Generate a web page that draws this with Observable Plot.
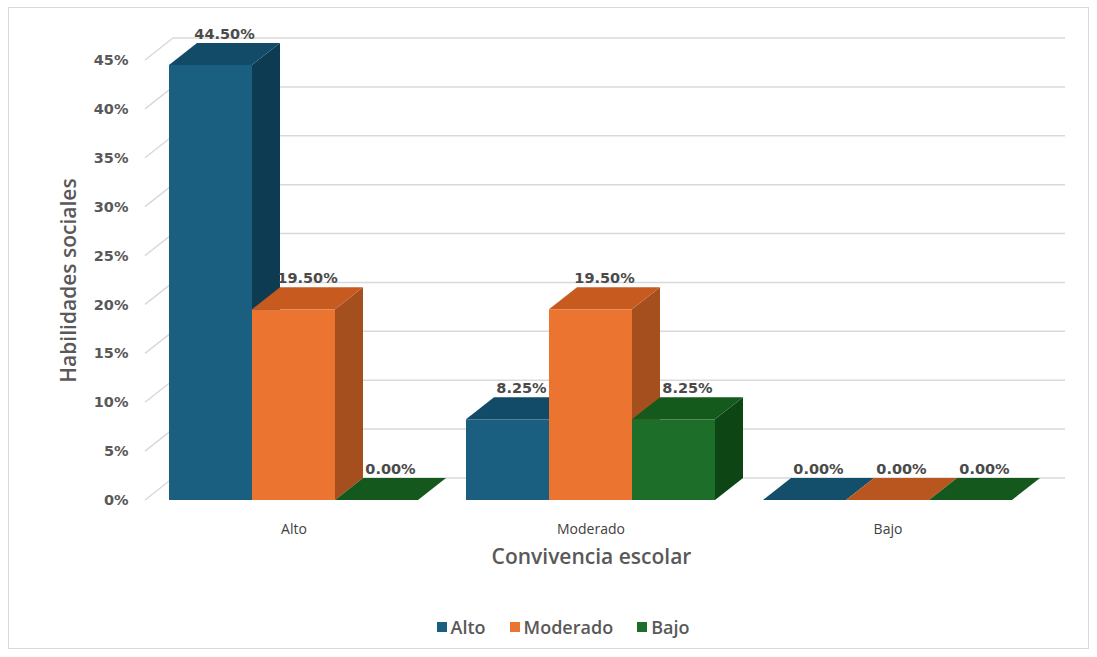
<!DOCTYPE html>
<html>
<head>
<meta charset="utf-8">
<script src="https://cdn.jsdelivr.net/npm/d3@7"></script>
<script src="https://cdn.jsdelivr.net/npm/@observablehq/plot@0.6"></script>
<style>
  html, body { margin: 0; padding: 0; background: #ffffff; }
  #wrap { position: relative; width: 1097px; height: 657px; overflow: hidden; font-family: "Open Sans", sans-serif; }
  #frame { position: absolute; left: 8px; top: 7px; width: 1081px; height: 642px; border: 1px solid #d9d9d9; box-sizing: border-box; }
  #chart { position: absolute; left: 0; top: 0; }
  #legend { position: absolute; left: 0; top: 615px; width: 1126px; display: flex; justify-content: center; gap: 24px;
            font-size: 18px; font-weight: 600; color: #595959; font-family: "Open Sans", sans-serif; }
  #legend span.item { display: inline-flex; align-items: center; }
  #legend span.sw { display: inline-block; width: 10px; height: 10px; margin-right: 4px; }
</style>
</head>
<body>
<div id="wrap">
  <div id="frame"></div>
  <div id="chart"></div>
  <div id="legend"></div>
</div>
<script>
// ---- data ----
const categories = ["Alto", "Moderado", "Bajo"];          // Convivencia escolar
const seriesNames = ["Alto", "Moderado", "Bajo"];         // Habilidades sociales
const valuesAlto = [0.445, 0.0825, 0];
const valuesModerado = [0.195, 0.195, 0];
const valuesBajo = [0, 0.0825, 0];
const yTicks = [0, 0.05, 0.10, 0.15, 0.20, 0.25, 0.30, 0.35, 0.40, 0.45];

// ---- styles ----
const frontColors = {Alto: "#1a5f80", Moderado: "#ec7431", Bajo: "#1c6e28"};
const topColors   = {Alto: "#124b67", Moderado: "#c75b1f", Bajo: "#155a1d"};
const flatColors  = {Alto: "#134e6a", Moderado: "#b9561f", Bajo: "#15581d"};
const sideColors  = {Alto: "#0d3b51", Moderado: "#a54f1e", Bajo: "#0e4515"};
const DX = 28, DY = -22;   // 3D depth offset (pixels)

const seriesValues = [valuesAlto, valuesModerado, valuesBajo];
const data = [];
categories.forEach((cat, ci) => {
  seriesNames.forEach((s, si) => {
    data.push({cat, series: s, value: seriesValues[si][ci]});
  });
});

const fmtPct = v => (v * 100).toFixed(2) + "%";

function walls(index, scales, values, dimensions) {
  const g = d3.create("svg:g");
  const xl = dimensions.marginLeft;
  const xr = dimensions.width - dimensions.marginRight;
  for (const t of yTicks) {
    const y = scales.y(t);
    // left wall diagonal
    g.append("line").attr("x1", xl).attr("y1", y).attr("x2", xl + DX).attr("y2", y + DY)
      .attr("stroke", "#d9d9d9").attr("stroke-width", 1.5);
    // back wall gridline
    g.append("line").attr("x1", xl + DX).attr("y1", y + DY).attr("x2", xr + DX).attr("y2", y + DY)
      .attr("stroke", "#d9d9d9").attr("stroke-width", 1.5);
  }
  return g.node();
}

function bars3d(index, scales) {
  const g = d3.create("svg:g");
  const bw = scales.x.bandwidth() / seriesNames.length;
  const y0 = scales.y(0);
  for (const d of data) {
    const j = seriesNames.indexOf(d.series);
    const x0 = scales.x(d.cat) + j * bw;
    const x1 = x0 + bw;
    const yv = scales.y(d.value);
    if (d.value > 0) {
      g.append("rect").attr("x", x0).attr("y", yv).attr("width", bw).attr("height", y0 - yv)
        .attr("fill", frontColors[d.series]);
      g.append("polygon")
        .attr("points", [[x1, yv], [x1 + DX, yv + DY], [x1 + DX, y0 + DY], [x1, y0]].map(p => p.join(",")).join(" "))
        .attr("fill", sideColors[d.series]);
    }
    g.append("polygon")
      .attr("points", [[x0, yv], [x0 + DX, yv + DY], [x1 + DX, yv + DY], [x1, yv]].map(p => p.join(",")).join(" "))
      .attr("fill", d.value > 0 ? topColors[d.series] : flatColors[d.series]);
  }
  for (const d of data) {
    const j = seriesNames.indexOf(d.series);
    const x0 = scales.x(d.cat) + j * bw;
    const yv = scales.y(d.value);
    g.append("text")
      .attr("x", x0 + bw / 2 + DX / 2)
      .attr("y", yv + DY - 4)
      .attr("text-anchor", "middle")
      .attr("font-family", "'DejaVu Sans', sans-serif")
      .attr("font-size", 14.5)
      .attr("font-weight", 700)
      .attr("fill", "#4a4a4a")
      .text(fmtPct(d.value));
  }
  return g.node();
}

const chart = Plot.plot({
  width: 1097,
  height: 600,
  marginLeft: 145,
  marginRight: 60,
  marginTop: 60,
  marginBottom: 100,
  style: {fontFamily: "'Open Sans', sans-serif", background: "transparent"},
  x: {type: "band", domain: categories, paddingInner: 0.16, paddingOuter: 0.08},
  y: {domain: [0, 0.45]},
  marks: [
    walls,
    Plot.axisY(yTicks, {tickSize: 0, tickPadding: 17, tickFormat: d => Math.round(d * 100) + "%",
      fontSize: 14.5, fontWeight: 700, fontFamily: "'DejaVu Sans', sans-serif", color: "#595959", label: null}),
    Plot.axisX({tickSize: 0, tickPadding: 24, fontSize: 14, color: "#404040", label: null}),
    bars3d,
    Plot.text(["Habilidades sociales"], {text: d => d, frameAnchor: "left", dx: -76, rotate: -90, textAnchor: "middle",
      fontSize: 21, fontWeight: 600, fill: "#595959"}),
    Plot.text(["Convivencia escolar"], {text: d => d, frameAnchor: "bottom", dy: 63,
      fontSize: 21, fontWeight: 600, fill: "#595959"})
  ]
});
document.getElementById("chart").appendChild(chart);

const legend = document.getElementById("legend");
for (const s of seriesNames) {
  const item = document.createElement("span");
  item.className = "item";
  const sw = document.createElement("span");
  sw.className = "sw";
  sw.style.background = frontColors[s];
  item.appendChild(sw);
  item.appendChild(document.createTextNode(s));
  legend.appendChild(item);
}
</script>
</body>
</html>
